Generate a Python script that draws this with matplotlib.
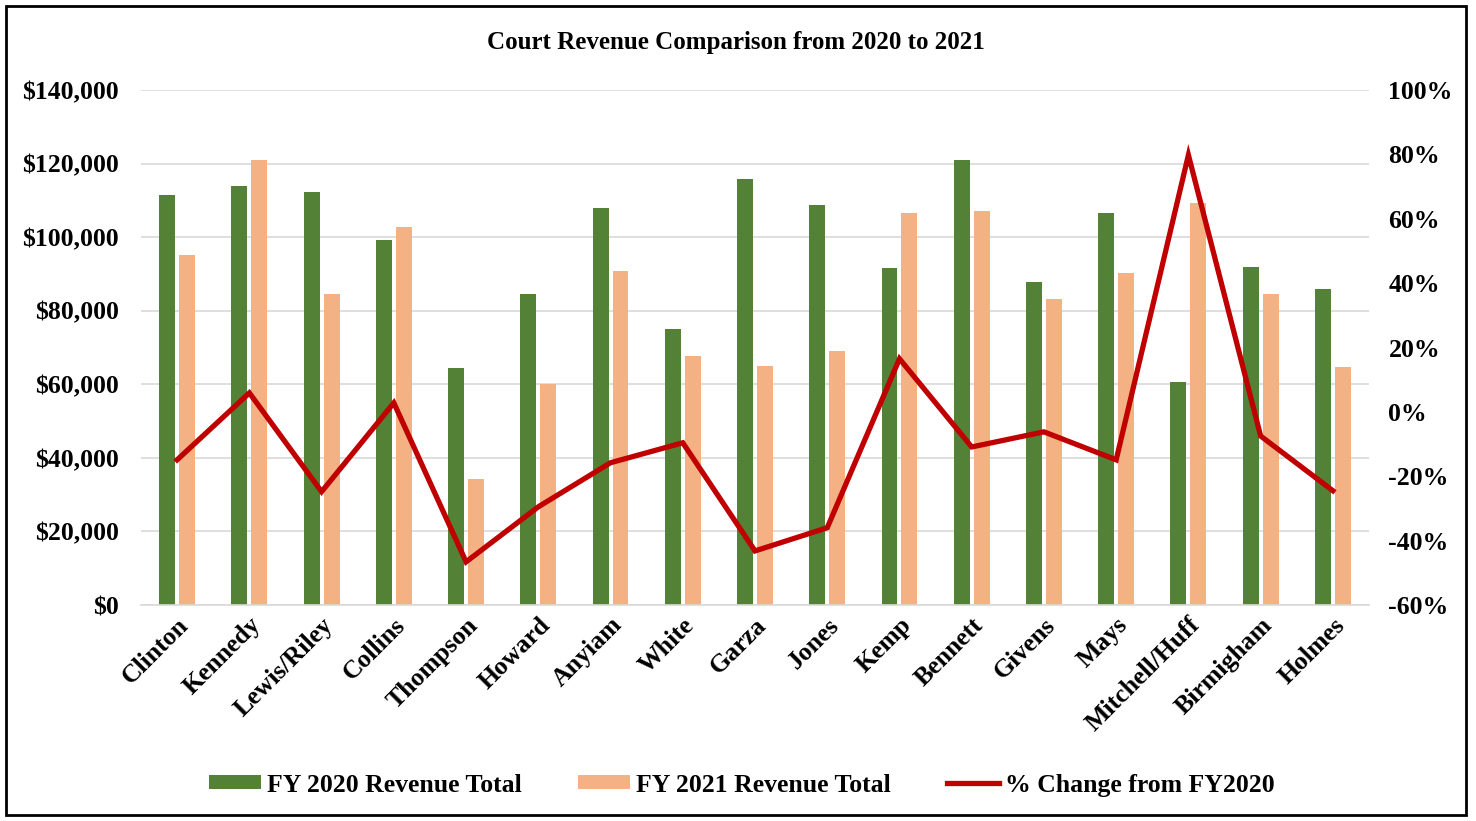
import matplotlib
matplotlib.use("Agg")
import matplotlib.pyplot as plt
from matplotlib.patches import Rectangle
from matplotlib.ticker import FuncFormatter, FixedLocator
import numpy as np

categories = ["Clinton", "Kennedy", "Lewis/Riley", "Collins", "Thompson", "Howard",
              "Anyiam", "White", "Garza", "Jones", "Kemp", "Bennett", "Givens",
              "Mays", "Mitchell/Huff", "Birmigham", "Holmes"]
fy2020 = [111400, 113900, 112300, 99200, 64400, 84500, 107900, 75000, 115800,
          108700, 91600, 121000, 87800, 106500, 60600, 91900, 85900]
fy2021 = [95100, 121000, 84500, 102700, 34200, 60100, 90800, 67700, 65000,
          69000, 106500, 107100, 83200, 90200, 109300, 84500, 64700]
pct_change = [-14.9, 5.9, -24.8, 2.8, -46.6, -29.5, -15.8, -9.6, -43.2,
              -36.0, 16.5, -10.9, -6.2, -14.9, 79.8, -7.5, -24.5]

GREEN = "#538135"
PEACH = "#F4B183"
RED = "#C00000"
GRID = "#D9D9D9"

plt.rcParams['font.family'] = ['Liberation Serif', 'DejaVu Serif']
plt.rcParams['font.weight'] = 'bold'

FS = 18.5
W, H = 1476, 821
fig = plt.figure(figsize=(W / 100, H / 100), dpi=100)
ax = fig.add_axes([141 / W, 1 - 605 / H, (1369 - 141) / W, (605 - 90) / H])
ax2 = ax.twinx()

x = np.arange(len(categories))
bw = 0.22
off = 0.138
ax.bar(x - off, fy2020, width=bw, color=GREEN, label="FY 2020 Revenue Total", zorder=2)
ax.bar(x + off, fy2021, width=bw, color=PEACH, label="FY 2021 Revenue Total", zorder=2)
ax2.plot(x, pct_change, color=RED, lw=3.8, label="% Change from FY2020",
         solid_joinstyle='miter', zorder=3)

ax.set_xlim(-0.5, len(categories) - 0.5)
ax.set_ylim(0, 140000)
ax.yaxis.set_major_locator(FixedLocator(np.arange(0, 140001, 20000)))
ax.yaxis.set_major_formatter(FuncFormatter(lambda v, p: f"${v:,.0f}"))
ax2.set_ylim(-60, 100)
ax2.yaxis.set_major_locator(FixedLocator(np.arange(-60, 101, 20)))
ax2.yaxis.set_major_formatter(FuncFormatter(lambda v, p: f"{v:.0f}%"))

ax.grid(axis='y', color=GRID, lw=1.2, zorder=0)
ax.set_axisbelow(True)
for a in (ax, ax2):
    for s in a.spines.values():
        s.set_visible(False)
    a.tick_params(length=0)
ax.spines['bottom'].set_visible(True)
ax.spines['bottom'].set_color(GRID)
ax.spines['bottom'].set_linewidth(1.2)

ax.set_xticks(x)
ax.set_xticklabels(categories, rotation=45, ha='right', rotation_mode='anchor',
                   fontsize=FS, fontweight='bold')
ax.tick_params(axis='x', pad=6)
ax.tick_params(axis='y', labelsize=FS, pad=16)
ax2.tick_params(axis='y', labelsize=FS, pad=14)
for lab in ax.get_yticklabels() + ax2.get_yticklabels():
    lab.set_fontweight('bold')

fig.text(736 / W, 1 - 43 / H, "Court Revenue Comparison from 2020 to 2021",
         ha='center', va='center', fontsize=18, fontweight='bold')

h1, l1 = ax.get_legend_handles_labels()
h2, l2 = ax2.get_legend_handles_labels()
leg = fig.legend(h1 + h2, l1 + l2, loc='center', bbox_to_anchor=(742 / W, 1 - 785 / H),
                 ncol=3, frameon=False, prop={'family': 'Liberation Serif', 'weight': 'bold', 'size': FS},
                 handlelength=2.0, handleheight=0.45, columnspacing=2.2, handletextpad=0.25)

fig.patches.append(Rectangle((6 / W, 6 / H), (1466 - 6) / W, (815 - 6) / H,
                             transform=fig.transFigure, fill=False, edgecolor='black',
                             lw=2, zorder=10))

fig.savefig("out.png", dpi=100)
